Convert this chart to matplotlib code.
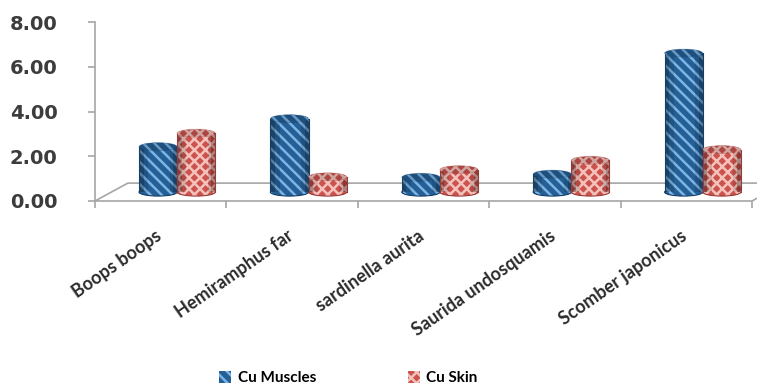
import numpy as np
import matplotlib
matplotlib.use("Agg")
import matplotlib.pyplot as plt
from matplotlib.patches import Rectangle, Ellipse, Polygon, Patch

# Cu concentration per species
species = ["Boops boops", "Hemiramphus far", "sardinella aurita",
           "Saurida undosquamis", "Scomber japonicus"]
cu_muscles = [2.03, 3.28, 0.66, 0.80, 6.21]
cu_skin = [2.63, 0.68, 1.00, 1.42, 1.90]
series_names = ["Cu Muscles", "Cu Skin"]
y_ticks = [0, 2, 4, 6, 8]

# pseudo-3D geometry (data units)
depth_dx, depth_dy = 0.25, 0.80      # full floor depth
bar_w = 0.29
ell_h = 0.36                          # height of the cylinder caps

styles = [
    dict(face="#245f96", hatch_col="#7db4e4", edge="#163f66", hatch="\\\\\\"),
    dict(face="#cc524e", hatch_col="#f5c2bb", edge="#9a3a38", hatch="xxx"),
]

plt.rcParams["hatch.linewidth"] = 1.8

fig = plt.figure(figsize=(7.57, 3.92), dpi=100)
ax = fig.add_axes([95 / 757, 191 / 392, 657 / 757, 179 / 392])
ax.set_xlim(0, 5)
ax.set_ylim(0, 8)

grey = "#a6a6a6"

# floor of the 3D plot
floor = Polygon([(0, 0), (5, 0), (5 + depth_dx, depth_dy), (depth_dx, depth_dy)],
                closed=True, facecolor="white", edgecolor=grey, lw=1.2,
                clip_on=False, zorder=1)
ax.add_patch(floor)


def cylinder(x0, height, st):
    base = depth_dy / 2
    top = base + height
    cx = x0 + bar_w / 2
    # body
    ax.add_patch(Rectangle((x0, base), bar_w, height, facecolor=st["face"],
                           edgecolor=st["hatch_col"], hatch=st["hatch"], lw=0,
                           clip_on=False, zorder=3))
    ax.add_patch(Ellipse((cx, base), bar_w, ell_h, facecolor=st["face"],
                         edgecolor=st["hatch_col"], hatch=st["hatch"], lw=0,
                         clip_on=False, zorder=2.9))
    # side shading to give a rounded look
    for frac, w, alpha in [(0.0, 0.12, 0.30), (0.12, 0.12, 0.12),
                           (0.80, 0.10, 0.12), (0.90, 0.10, 0.30)]:
        ax.add_patch(Rectangle((x0 + bar_w * frac, base), bar_w * w, height,
                               facecolor="black", alpha=alpha, lw=0,
                               clip_on=False, zorder=3.1))
    # outlines
    ax.plot([x0, x0], [base, top], color=st["edge"], lw=0.8, zorder=3.2, clip_on=False)
    ax.plot([x0 + bar_w, x0 + bar_w], [base, top], color=st["edge"], lw=0.8,
            zorder=3.2, clip_on=False)
    ax.add_patch(Ellipse((cx, base), bar_w, ell_h, facecolor="none",
                         edgecolor=st["edge"], lw=0.8, clip_on=False, zorder=2.95))
    # top cap
    ax.add_patch(Ellipse((cx, top), bar_w, ell_h, facecolor=st["face"],
                         edgecolor=st["hatch_col"], hatch=st["hatch"], lw=0,
                         clip_on=False, zorder=3.3))
    ax.add_patch(Ellipse((cx, top), bar_w, ell_h, facecolor="black", alpha=0.15,
                         edgecolor=st["edge"], lw=0.8, clip_on=False, zorder=3.4))


for i in range(len(species)):
    c = i + 0.5 + depth_dx / 2
    cylinder(c - bar_w, cu_muscles[i], styles[0])
    cylinder(c, cu_skin[i], styles[1])

# axes styling
for s in ["top", "right", "bottom"]:
    ax.spines[s].set_visible(False)
ax.spines["left"].set_color(grey)
ax.spines["left"].set_linewidth(1.2)

ax.set_yticks(y_ticks)
ax.set_yticklabels([f"{v:.2f}" for v in y_ticks], fontsize=14,
                   fontweight="bold", color="#3c3c3c")
ax.tick_params(axis="y", length=5, color=grey, width=1.2, pad=22)

ax.set_xticks(np.arange(len(species)) + 0.5 - 0.045)
ax.set_xticklabels(species, rotation=35, ha="right", rotation_mode="anchor",
                   fontsize=13, fontweight="bold", family="Lato", color="#2b2b2b")
ax.set_xticks(np.arange(len(species) + 1), minor=True)
ax.tick_params(axis="x", which="major", length=0, pad=19)
ax.tick_params(axis="x", which="minor", length=5, color=grey, width=1.2)

handles = [Patch(facecolor=st["face"], edgecolor=st["hatch_col"], hatch=st["hatch"],
                 lw=0) for st in styles]
fig.legend(handles, series_names, loc="center", bbox_to_anchor=(0.46, 0.035),
           ncol=2, frameon=False, handlelength=0.8, handleheight=0.8,
           columnspacing=6, handletextpad=0.4,
           prop=dict(family="Lato", weight="bold", size=11))

fig.savefig("out.png", dpi=100)
